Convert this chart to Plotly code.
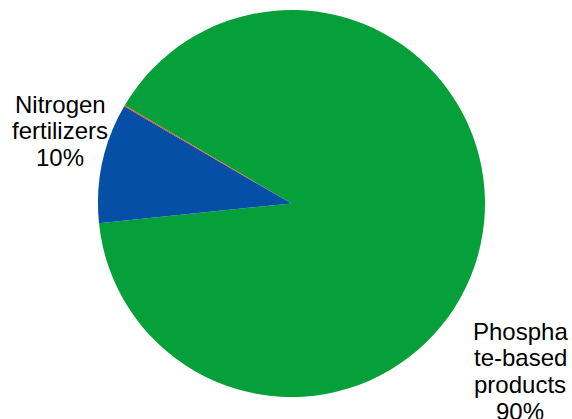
import plotly.graph_objects as go

# Share of each product group (percent)
categories = ["Phosphate-based products", "Nitrogen fertilizers", "Other"]
shares = [90, 10, 0.1]
colors = ["#06A03A", "#064FA6", "#D9541E"]

# Label lines drawn next to the two main slices
label_lines = {
    "Nitrogen fertilizers": ["Nitrogen", "fertilizers", "10%"],
    "Phosphate-based products": ["Phospha", "te-based", "products", "90%"],
}

W, H = 572, 419
cx, cy, r = 291.5, 203.5, 193.5

fig = go.Figure(
    go.Pie(
        labels=categories,
        values=shares,
        sort=False,
        direction="clockwise",
        rotation=-59.5,
        marker=dict(colors=colors, line=dict(width=0)),
        textinfo="none",
        hoverinfo="label+percent",
        showlegend=False,
        domain=dict(
            x=[(cx - r) / W, (cx + r) / W],
            y=[1 - (cy + r) / H, 1 - (cy - r) / H],
        ),
    )
)

font = dict(family="Liberation Sans, Arial, sans-serif", size=24, color="#000000")
spacing = 26.8

# label block centres in pixels: (x centre, first line centre)
anchors = {
    "Nitrogen fertilizers": (60, 104),
    "Phosphate-based products": (520, 331),
}
annotations = []
for name, lines in label_lines.items():
    x0, y0 = anchors[name]
    for i, line in enumerate(lines):
        annotations.append(
            dict(
                text=line,
                x=x0 / W,
                y=1 - (y0 + i * spacing) / H,
                xref="paper",
                yref="paper",
                xanchor="center",
                yanchor="middle",
                showarrow=False,
                font=font,
            )
        )

fig.update_layout(
    width=W,
    height=H,
    margin=dict(l=0, r=0, t=0, b=0),
    paper_bgcolor="white",
    plot_bgcolor="white",
    annotations=annotations,
)

fig.write_html("out.html")
